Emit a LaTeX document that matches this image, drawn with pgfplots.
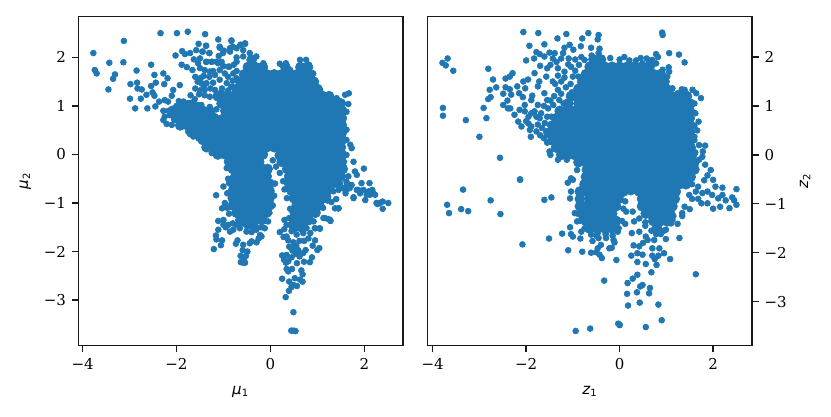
\documentclass[border=0pt]{standalone}
\usepackage{fontspec}
\setmainfont{DejaVu Serif}
\newfontfamily\lab{DejaVu Sans}
\usepackage{pgfplots}
\pgfplotsset{compat=1.18}
\definecolor{tabblue}{HTML}{1F77B4}
\pgfplotsset{
  panel/.style={
    scale only axis, width=194.7pt, height=197.4pt,
    anchor=south west, axis line style={line width=.85pt,black!90},
    tick align=outside,
    tick style={line width=.8pt,black!90},
    major tick length=3.9pt,
    tick label style={font=\fontsize{9}{10}\selectfont},
    xtick={-4,-2,0,2}, xticklabels={−4,−2,0,2},
    ytick={-3,-2,-1,0,1,2}, yticklabels={−3,−2,−1,0,1,2},
    xtick pos=bottom,
  },
  core/.style={only marks, mark=*, mark size=3pt, color=tabblue, mark options={draw=none}},
  dots/.style={only marks, mark=*, mark size=1.75pt, color=tabblue, mark options={draw=none}},
}
\begin{document}
\begin{tikzpicture}
\useasboundingbox (0,0) rectangle (498.6pt,249.6pt);
\begin{axis}[panel, at={(47pt,42.2pt)}, xmin=-4.09, xmax=2.82, ymin=-3.94, ymax=2.84,
  ytick pos=left,
  xlabel={{\lab\itshape μ}\textsubscript{\lab 1}}, ylabel={{\lab\itshape μ}\textsubscript{\lab 2}},
  xlabel style={font=\fontsize{9}{10}\selectfont, at={(axis description cs:0.5,-0.105)}, anchor=north},
  ylabel style={font=\fontsize{9}{10}\selectfont, at={(axis description cs:-0.128,0.5)}, anchor=south}]
% dense middle
\addplot[core] coordinates {
(-.4,1.95)
(-.48,1.8)(-.32,1.8)(-.16,1.8)(.32,1.8)(.64,1.8)(.8,1.8)
(-.56,1.65)(-.4,1.65)(-.24,1.65)(-.08,1.65)(.08,1.65)(.24,1.65)(.4,1.65)(.56,1.65)(.72,1.65)(.85,1.65)
(-.64,1.5)(-.48,1.5)(-.32,1.5)(-.16,1.5)(0,1.5)(.16,1.5)(.32,1.5)(.48,1.5)(.64,1.5)(.8,1.5)(.92,1.5)
(-.72,1.35)(-.56,1.35)(-.4,1.35)(-.24,1.35)(-.08,1.35)(.08,1.35)(.24,1.35)(.4,1.35)(.56,1.35)(.72,1.35)(.88,1.35)(1.0,1.35)
(-1.12,1.2)(-.96,1.2)(-.8,1.2)(-.64,1.2)(-.48,1.2)(-.32,1.2)(-.16,1.2)(0,1.2)(.16,1.2)(.32,1.2)(.48,1.2)(.64,1.2)(.8,1.2)(.96,1.2)(1.12,1.2)(1.25,1.2)
(-1.84,1.02)(-1.68,1.02)(-1.04,1.05)(-.88,1.05)(-.72,1.05)(-.56,1.05)(-.4,1.05)(-.24,1.05)(-.08,1.05)(.08,1.05)(.24,1.05)(.4,1.05)(.56,1.05)(.72,1.05)(.88,1.05)(1.04,1.05)(1.2,1.05)(1.36,1.05)(1.5,1.05)
(-2.08,.9)(-1.92,.9)(-1.76,.9)(-1.6,.9)(-1.44,.9)(-1.28,.88)(-.96,.9)(-.8,.9)(-.64,.9)(-.48,.9)(-.32,.9)(-.16,.9)(0,.9)(.16,.9)(.32,.9)(.48,.9)(.64,.9)(.8,.9)(.96,.9)(1.12,.9)(1.28,.9)(1.44,.9)(1.52,.9)
(-2.0,.75)(-1.84,.75)(-1.68,.75)(-1.52,.75)(-1.36,.75)(-1.2,.75)(-1.04,.72)(-.88,.75)(-.72,.75)(-.56,.75)(-.4,.75)(-.24,.75)(-.08,.75)(.08,.75)(.24,.75)(.4,.75)(.56,.75)(.72,.75)(.88,.75)(1.04,.75)(1.2,.75)(1.36,.75)(1.52,.75)
(-1.92,.6)(-1.76,.6)(-1.6,.6)(-1.44,.6)(-1.28,.6)(-1.12,.6)(-.96,.6)(-.8,.6)(-.64,.6)(-.48,.6)(-.32,.6)(-.16,.6)(0,.6)(.16,.6)(.32,.6)(.48,.6)(.64,.6)(.8,.6)(.96,.6)(1.12,.6)(1.28,.6)(1.44,.6)(1.52,.6)
(-1.68,.45)(-1.52,.45)(-1.36,.45)(-1.2,.45)(-1.04,.45)(-.88,.45)(-.72,.45)(-.56,.45)(-.4,.45)(-.24,.45)(-.08,.45)(.08,.45)(.24,.45)(.4,.45)(.56,.45)(.72,.45)(.88,.45)(1.04,.45)(1.2,.45)(1.36,.45)(1.52,.45)
(-1.44,.3)(-1.28,.3)(-1.12,.3)(-.96,.3)(-.8,.3)(-.64,.3)(-.48,.3)(-.32,.3)(-.16,.3)(0,.3)(.16,.3)(.32,.3)(.48,.3)(.64,.3)(.8,.3)(.96,.3)(1.12,.3)(1.28,.3)(1.44,.3)(1.52,.3)
(-1.36,.15)(-1.2,.15)(-1.04,.15)(-.88,.15)(-.72,.15)(-.56,.15)(-.4,.15)(-.24,.15)(-.08,.15)(.08,.15)(.24,.15)(.4,.15)(.56,.15)(.72,.15)(.88,.15)(1.04,.15)(1.2,.15)(1.36,.15)(1.5,.15)
(-1.12,0)(-.96,0)(-.8,0)(-.64,0)(-.48,0)(-.32,0)(-.16,0)(.2,-.02)(.32,0)(.48,0)(.64,0)(.8,0)(.96,0)(1.12,0)(1.28,0)(1.44,0)(1.52,0)
(-.88,-.15)(-.72,-.15)(-.56,-.15)(-.4,-.15)(-.24,-.15)(.24,-.15)(.4,-.15)(.56,-.15)(.72,-.15)(.88,-.15)(1.04,-.15)(1.2,-.15)(1.36,-.15)(1.52,-.15)
(-.8,-.3)(-.64,-.3)(-.48,-.3)(-.32,-.3)(-.16,-.3)(-.06,-.3)(.36,-.3)(.48,-.3)(.64,-.3)(.8,-.3)(.96,-.3)(1.12,-.3)(1.28,-.3)(1.44,-.3)(1.54,-.3)
(-.72,-.45)(-.56,-.45)(-.4,-.45)(-.24,-.45)(-.08,-.45)(.4,-.45)(.56,-.45)(.72,-.45)(.88,-.45)(1.04,-.45)(1.2,-.45)(1.36,-.45)(1.5,-.45)
(-.8,-.6)(-.64,-.6)(-.48,-.6)(-.32,-.6)(-.16,-.6)(-.02,-.6)(.4,-.6)(.48,-.6)(.64,-.6)(.8,-.6)(.96,-.6)(1.12,-.6)(1.28,-.6)(1.44,-.6)(1.66,-.66)
(-.8,-.75)(-.64,-.75)(-.48,-.75)(-.32,-.75)(-.16,-.75)(-.02,-.75)(.45,-.75)(.56,-.75)(.72,-.75)(.88,-.75)(1.04,-.75)(1.2,-.75)
(-.8,-.9)(-.64,-.9)(-.48,-.9)(-.32,-.9)(-.16,-.9)(-.02,-.9)(.5,-.9)(.64,-.9)(.8,-.9)(.96,-.9)(1.12,-.9)
(-.8,-1.05)(-.64,-1.05)(-.48,-1.05)(-.32,-1.05)(-.16,-1.05)(-.02,-1.05)(.56,-1.05)(.72,-1.05)(.88,-1.05)(1.04,-1.05)
(-.72,-1.2)(-.56,-1.2)(-.4,-1.2)(-.24,-1.2)(-.08,-1.2)(.52,-1.2)(.64,-1.2)(.8,-1.2)(.96,-1.2)
(-.64,-1.35)(-.48,-1.35)(-.32,-1.35)(-.18,-1.35)(.52,-1.35)(.68,-1.35)(.82,-1.35)
(-.35,-1.5)(.5,-1.5)(.66,-1.5)
};
% single dots
\addplot[dots] coordinates {
(-3.77,2.09)(-3.74,1.74)(-3.70,1.67)(-3.43,1.89)(-3.12,2.34)(-3.13,1.90)(-3.31,1.65)(-3.35,1.56)(-3.45,1.34)
(-2.34,2.50)(-1.99,2.50)(-1.76,2.53)(-1.39,2.48)(-1.11,2.37)(-.83,2.35)(-.54,2.28)(-.63,2.26)(-1.53,2.28)(-1.37,2.24)(-1.08,2.20)(-.80,2.22)
(-1.58,2.15)(-1.44,2.12)(-1.88,2.13)(-1.82,2.07)(-2.02,2.04)(-1.71,2.09)(-1.30,2.09)(-.99,2.14)(-.86,2.12)(-.58,2.15)(-1.10,2.03)
(-1.63,1.96)(-1.50,1.98)(-1.54,1.88)(-1.37,1.91)(-1.25,1.91)(-1.11,1.88)(-.72,2.00)(-.87,1.81)(-1.89,1.85)(-1.78,1.80)(-1.66,1.74)
(-2.54,1.85)(-2.85,1.73)(-2.47,1.64)(-2.28,1.67)(-2.19,1.57)(-2.98,1.45)(-2.84,1.48)(-2.44,1.48)(-2.26,1.45)(-2.54,1.41)(-1.93,1.43)
(-2.83,1.36)(-2.74,1.34)(-2.51,1.28)(-2.07,1.33)(-2.64,1.23)(-2.99,1.15)(-2.76,1.15)(-2.47,1.21)(-1.70,1.22)(-2.88,.95)(-2.62,.95)
(-2.45,.99)(-2.37,1.09)(-2.25,1.12)(-2.18,1.09)(-2.10,1.21)(-2.28,.90)(-2.17,.90)
(-1.37,2.24)(-1.3,2.09)(-1.45,2.12)(-1.08,2.22)(-.83,2.34)(-.54,2.29)(-.64,2.26)(-.86,2.19)(-.72,2.19)(-1.01,2.09)
(-1.36,1.91)(-1.25,1.91)(-1.15,1.91)(-1.04,1.91)(-.9,1.81)(-.72,1.91)(-.79,1.67)(-1.08,1.74)(-.97,1.67)(-1.29,1.71)(-1.4,1.74)(-1.5,1.78)
(-1.36,1.47)(-1.18,1.64)(-1.08,1.54)(-1.18,1.33)(-.93,1.47)(-.72,1.57)(-.83,1.4)(-1.47,1.47)(-1.4,1.33)(-1.29,1.19)(-1.6,1.6)(-1.55,1.5)(-1.48,1.58)
(-1.42,1.62)(-1.3,1.6)(-1.22,1.72)(-1.03,1.36)(-.9,1.32)(-.8,1.52)(-.9,1.6)(-.72,1.72)(-.78,1.85)(-1.0,1.82)(-1.42,1.4)(-1.5,1.32)(-1.05,1.28)
(-1.6,1.36)(-1.52,1.24)(-1.4,1.22)(-1.28,1.36)(-1.22,1.48)
(-2.28,.71)(-2.21,.63)(-2.10,.61)(-2.25,.78)(-2.14,.81)(-2.0,.92)(-1.85,1.09)(-1.75,1.06)(-1.61,1.14)(-1.47,1.02)(-1.29,.98)(-1.15,.93)
(-1.85,.64)(-1.75,.47)(-1.64,.37)(-1.53,.33)(-1.35,.16)(-1.25,.03)(-.93,-.28)(-.79,-.45)(-2.0,1.0)(-1.95,1.1)(-1.55,1.02)(-2.05,.72)
(-.44,2.09)(-.58,2.02)(-.3,2.02)(-.15,1.88)(.2,1.87)(.33,1.88)(.42,1.74)(.63,1.95)(.76,1.95)(.82,1.85)(.91,1.67)(.97,1.5)(1.06,1.33)
(1.27,1.23)(1.41,1.16)(1.59,1.23)(1.67,1.26)(1.66,1.04)(1.62,.88)(1.62,.51)(1.62,.3)(1.7,.2)(1.73,.13)(1.62,-.01)(1.77,-.15)(1.99,-.29)
(1.8,-.35)(1.84,-.42)(1.66,-.45)(2.11,-.59)(1.94,-.59)(2.16,-.76)(2.23,-.83)(2.05,-.83)(1.87,-.73)(1.77,-.9)(2.02,-.94)(2.26,-1.0)(2.39,-.97)
(2.51,-1.0)(2.39,-1.12)(1.45,-1.11)(1.34,-.76)(1.23,-.87)(1.16,-1.31)(1.27,-1.35)(.95,-1.52)(1.05,-1.52)
(1.62,-.56)(1.55,-.7)(1.45,-.73)(1.73,-.63)(1.84,-.73)(1.91,-.8)(1.77,-.88)(1.98,-.73)(2.12,-.83)(2.19,-.8)(2.09,-.76)(2.17,-.73)
(2.33,-1.0)(2.28,-1.02)(1.6,-.8)(1.4,-.92)(1.3,-.98)
(-1.155,-.84)(-1.205,-1.95)(-1.11,-1.55)(-1.16,-1.67)(-1.15,-1.75)(-1.03,-1.77)(-1.055,-1.87)(-.735,-1.84)(-.70,-1.77)(-.58,-1.86)(-.59,-1.97)
(-.49,-2.0)(-.52,-2.09)(-.635,-2.09)(-.58,-2.23)(-.63,-2.22)(-.54,-2.23)(-.565,-2.16)(-.25,-1.73)(-.19,-1.69)(-.40,-1.79)(-.295,-1.81)(-.44,-1.83)
(-1.11,-1.37)(-1.0,-1.35)(-.9,-1.45)(-.86,-1.59)(-.79,-1.55)(-.65,-1.52)(-.58,-1.42)(-.51,-1.59)(-1.03,-1.11)(-1.0,-.66)(-.88,-.59)(-.97,-1.0)
(-.05,-1.38)(-.12,-1.52)(-.22,-1.66)(-.92,-.8)(-.92,-1.1)(-.88,-1.22)(-1.0,-1.45)(-.8,-1.42)(-.72,-1.45)(-.5,-1.48)(-.4,-1.6)(-.3,-1.55)(-.95,-1.5)
(-.2,-1.5)(-.02,-1.2)(.05,-1.05)(.08,-.85)(.1,-.6)(.45,-1.42)(.75,-1.42)(.92,-1.38)(1.12,-1.1)(1.22,-.95)(1.3,-.7)(-.9,-.5)
(.2,-1.6)(.345,-1.45)(.40,-1.31)(.295,-1.54)(.345,-1.69)(.38,-1.77)(.49,-1.81)(.52,-1.91)(.59,-1.97)(.75,-1.97)(.70,-2.03)(.54,-2.05)(.45,-2.12)
(.25,-2.08)(.345,-2.07)(.29,-2.17)(.38,-2.2)(.33,-2.23)(.565,-2.24)(.715,-2.21)(.84,-2.22)(.885,-2.12)(1.04,-1.93)(1.0,-1.97)(.9,-1.88)(.95,-1.77)
(.81,-1.73)(.7,-1.62)(.56,-1.65)(.56,-1.48)(.77,-1.52)(.95,-1.52)(1.055,-1.53)(1.13,-1.31)(1.23,-1.33)(1.28,-1.37)(1.45,-1.11)(1.375,-1.11)
(.345,-2.36)(.46,-2.36)(.38,-2.41)(.66,-2.39)(.685,-2.47)(.25,-2.56)(.52,-2.55)(.63,-2.58)(.40,-2.62)(.685,-2.62)(.49,-2.69)(.565,-2.71)
(.45,-2.73)(.395,-2.81)(.325,-2.94)(.49,-3.25)(.445,-3.63)(.495,-3.63)(.535,-3.64)(.62,-1.78)(.72,-1.78)(.85,-1.62)(.45,-1.58)(.55,-1.88)
(.62,-2.1)(.47,-1.98)(.4,-1.9)(.28,-1.7)(.3,-1.35)(.42,-1.12)(.35,-.9)(.3,-.72)(.27,-.55)(.2,-.38)(.12,-.25)(.05,-.12)
};
\end{axis}
\begin{axis}[panel, at={(256.6pt,42.2pt)}, xmin=-4.107, xmax=2.836, ymin=-3.9, ymax=2.825,
  ytick pos=right, yticklabel pos=right,
  xlabel={{\lab\itshape z}\textsubscript{\lab 1}}, ylabel={{\lab\itshape z}\textsubscript{\lab 2}},
  xlabel style={font=\fontsize{9}{10}\selectfont, at={(axis description cs:0.5,-0.105)}, anchor=north},
  ylabel style={font=\fontsize{9}{10}\selectfont, at={(axis description cs:1.129,0.5)}, anchor=north}]
\addplot[core] coordinates {
(-.56,1.95)(-.4,1.95)
(-.64,1.8)(-.48,1.8)(-.32,1.8)(-.16,1.8)(0,1.8)(.16,1.8)(.32,1.8)(.48,1.8)(.64,1.8)
(-.72,1.65)(-.56,1.65)(-.4,1.65)(-.24,1.65)(-.08,1.65)(.08,1.65)(.24,1.65)(.4,1.65)(.56,1.65)(.72,1.65)(.88,1.65)
(-.8,1.5)(-.64,1.5)(-.48,1.5)(-.32,1.5)(-.16,1.5)(0,1.5)(.16,1.5)(.32,1.5)(.48,1.5)(.64,1.5)(.8,1.5)(.96,1.5)
(-.88,1.35)(-.72,1.35)(-.56,1.35)(-.4,1.35)(-.24,1.35)(-.08,1.35)(.08,1.35)(.24,1.35)(.4,1.35)(.56,1.35)(.72,1.35)(.88,1.35)(1.0,1.35)
(-1.04,1.2)(-.96,1.2)(-.8,1.2)(-.64,1.2)(-.48,1.2)(-.32,1.2)(-.16,1.2)(0,1.2)(.16,1.2)(.32,1.2)(.48,1.2)(.64,1.2)(.8,1.2)(.96,1.2)(1.12,1.2)(1.28,1.2)(1.44,1.2)
(-1.1,1.05)(-.88,1.05)(-.72,1.05)(-.56,1.05)(-.4,1.05)(-.24,1.05)(-.08,1.05)(.08,1.05)(.24,1.05)(.4,1.05)(.56,1.05)(.72,1.05)(.88,1.05)(1.04,1.05)(1.2,1.05)(1.36,1.05)(1.5,1.05)
(-1.28,.9)(-1.12,.9)(-.96,.9)(-.8,.9)(-.64,.9)(-.48,.9)(-.32,.9)(-.16,.9)(0,.9)(.16,.9)(.32,.9)(.48,.9)(.64,.9)(.8,.9)(.96,.9)(1.12,.9)(1.28,.9)(1.44,.9)(1.5,.9)
(-1.36,.75)(-1.2,.75)(-1.04,.75)(-.88,.75)(-.72,.75)(-.56,.75)(-.4,.75)(-.24,.75)(-.08,.75)(.08,.75)(.24,.75)(.4,.75)(.56,.75)(.72,.75)(.88,.75)(1.04,.75)(1.2,.75)(1.36,.75)(1.5,.75)
(-1.44,.6)(-1.28,.6)(-1.12,.6)(-.96,.6)(-.8,.6)(-.64,.6)(-.48,.6)(-.32,.6)(-.16,.6)(0,.6)(.16,.6)(.32,.6)(.48,.6)(.64,.6)(.8,.6)(.96,.6)(1.12,.6)(1.28,.6)(1.44,.6)(1.5,.6)
(-1.52,.45)(-1.36,.45)(-1.2,.45)(-1.04,.45)(-.88,.45)(-.72,.45)(-.56,.45)(-.4,.45)(-.24,.45)(-.08,.45)(.08,.45)(.24,.45)(.4,.45)(.56,.45)(.72,.45)(.88,.45)(1.04,.45)(1.2,.45)(1.36,.45)(1.5,.45)
(-1.44,.3)(-1.28,.3)(-1.12,.3)(-.96,.3)(-.8,.3)(-.64,.3)(-.48,.3)(-.32,.3)(-.16,.3)(0,.3)(.16,.3)(.32,.3)(.48,.3)(.64,.3)(.8,.3)(.96,.3)(1.12,.3)(1.28,.3)(1.44,.3)(1.5,.3)
(-1.36,.15)(-1.2,.15)(-1.04,.15)(-.88,.15)(-.72,.15)(-.56,.15)(-.4,.15)(-.24,.15)(-.08,.15)(.08,.15)(.24,.15)(.4,.15)(.56,.15)(.72,.15)(.88,.15)(1.04,.15)(1.2,.15)(1.36,.15)(1.52,.15)
(-1.25,0)(-1.12,0)(-.96,0)(-.8,0)(-.64,0)(-.48,0)(-.32,0)(-.16,0)(0,0)(.16,0)(.32,0)(.48,0)(.64,0)(.8,0)(.96,0)(1.12,0)(1.28,0)(1.44,0)(1.55,0)
(-.88,-.15)(-.72,-.15)(-.56,-.15)(-.4,-.15)(-.24,-.15)(-.08,-.15)(.08,-.15)(.24,-.15)(.4,-.15)(.56,-.15)(.72,-.15)(.88,-.15)(1.04,-.15)(1.2,-.15)(1.36,-.15)(1.52,-.15)(1.6,-.15)
(-.7,-.3)(-.64,-.3)(-.48,-.3)(-.32,-.3)(-.16,-.3)(0,-.3)(.16,-.3)(.32,-.3)(.48,-.3)(.64,-.3)(.8,-.3)(.96,-.3)(1.12,-.3)(1.28,-.3)(1.44,-.3)(1.6,-.3)
(-.72,-.45)(-.56,-.45)(-.4,-.45)(-.24,-.45)(-.08,-.45)(.08,-.45)(.24,-.45)(.4,-.45)(.56,-.45)(.72,-.45)(.88,-.45)(1.04,-.45)(1.2,-.45)(1.36,-.45)(1.52,-.45)
(-.75,-.6)(-.64,-.6)(-.48,-.6)(-.32,-.6)(-.16,-.6)(0,-.6)(.16,-.6)(.32,-.6)(.48,-.6)(.64,-.6)(.8,-.6)(.96,-.6)(1.12,-.6)(1.28,-.6)(1.42,-.6)
(-.85,-.75)(-.72,-.75)(-.56,-.75)(-.4,-.75)(-.24,-.75)(-.08,-.75)(.08,-.75)(.24,-.72)(.42,-.75)(.56,-.75)(.72,-.75)(.88,-.75)(1.04,-.75)(1.2,-.75)
(-.85,-.9)(-.64,-.9)(-.48,-.9)(-.32,-.9)(-.16,-.9)(-.02,-.9)(.48,-.9)(.64,-.9)(.8,-.9)(.96,-.9)(1.12,-.9)(1.18,-.9)
(-.85,-1.05)(-.72,-1.05)(-.56,-1.05)(-.4,-1.05)(-.24,-1.05)(-.08,-1.05)(.48,-1.05)(.56,-1.05)(.72,-1.05)(.88,-1.05)(1.04,-1.05)(1.13,-1.05)
(-.8,-1.2)(-.64,-1.2)(-.48,-1.2)(-.32,-1.2)(-.16,-1.2)(.56,-1.2)(.64,-1.2)(.8,-1.2)(.96,-1.2)(1.08,-1.2)
(-.72,-1.35)(-.56,-1.35)(-.4,-1.35)(-.24,-1.35)(-.08,-1.35)(.72,-1.35)(.88,-1.35)(1.0,-1.35)
(-.64,-1.5)(-.48,-1.5)(-.32,-1.5)(-.16,-1.5)(.8,-1.5)
};
\addplot[dots] coordinates {
(-2.06,2.51)(-1.74,2.49)(-1.14,2.47)(-1.33,2.38)(-.67,2.49)(-.45,2.45)(-.47,2.36)(-.80,2.38)(-1.93,2.23)(-1.61,2.26)(-1.07,2.25)(-1.18,2.19)
(-.83,2.22)(-.99,2.15)(-.61,2.19)(-.43,2.17)(-3.68,1.97)(-3.79,1.88)(-3.72,1.83)(-3.56,1.72)(-2.81,1.76)(-2.0,1.93)(-1.83,1.97)(-1.78,2.1)
(-1.71,2.06)(-1.61,2.01)(-1.5,2.09)(-1.39,2.08)(-1.43,1.97)(-1.21,2.08)(-1.09,1.97)(-1.25,1.97)(-1.7,1.82)(-1.48,1.84)(-1.55,1.77)(-1.32,1.77)
(-1.04,1.8)(-.87,1.84)(-.75,1.94)(-.82,2.0)(-2.29,1.67)(-2.35,1.6)(-2.44,1.56)(-1.82,1.67)(-2.71,1.54)(-2.06,1.5)(-1.96,1.54)(-1.72,1.5)(-1.75,1.4)
(-1.57,1.6)(-1.43,1.5)(-1.18,1.7)(-1.0,1.6)(-1.25,1.5)(-2.78,1.33)(-2.64,1.38)(-2.44,1.38)(-2.35,1.34)(-2.19,1.4)(-2.02,1.36)(-2.49,1.25)(-2.32,1.23)
(-2.15,1.26)(-1.87,1.21)(-1.61,1.26)(-1.32,1.33)(-2.76,1.18)(-2.81,1.14)(-2.4,1.11)(-2.07,1.18)(-1.89,1.12)(-2.49,1.02)(-2.39,.95)(-2.34,.95)
(-2.91,.96)(-3.78,.96)(-3.78,.8)(-3.29,.71)(-2.85,.75)(-3.0,.37)(-2.56,-.06)(-2.13,-.5)(-1.48,1.11)(-1.29,1.12)(-2.03,1.02)(-1.75,1.02)(-1.53,.95)
(-2.25,.82)(-2.17,.68)(-2.1,.58)(-2.0,.69)(-1.89,.58)(-1.92,.51)(-1.9,.37)(-1.78,.48)(-1.71,.75)(-1.6,.65)(-1.62,.34)(-1.5,.07)(-1.48,0)(-1.32,-.1)
(-1.13,-.1)(-.91,-.31)(-1.04,-.48)(-1.89,.85)(-2.03,.89)(-2.14,.92)(-1.82,.89)(-1.68,.85)(-1.46,.78)(-1.32,.89)(-1.18,.92)(-1.57,.48)(-1.43,.44)(-1.46,.31)
(-1.4,1.2)(-1.25,1.25)(-1.15,1.38)(-1.05,1.45)(-1.18,1.58)(-1.32,1.62)(-1.38,1.45)(-1.02,1.28)(-.95,1.72)(-.88,1.6)(-1.1,1.85)(-.95,1.95)(-1.35,1.9)
(-1.55,1.12)(-1.62,1.0)(-1.78,.78)(-1.55,.78)(-1.42,1.02)(-1.2,1.05)(-1.66,.55)(-1.55,.25)(-1.7,.4)(-1.75,.62)(-1.95,.78)(-1.95,.64)
(-1.11,-.57)(-1.0,-.51)(-1.04,-.75)(-1.06,-.89)(-.96,-1.19)(-.91,-1.36)(-.82,-1.57)(-.68,-1.53)(-.61,-1.63)(-.47,-1.6)(-.29,-1.6)(-.04,-1.57)
(-2.13,-.51)(-3.35,-.71)(-3.69,-1.02)(-3.65,-1.19)(-3.39,-1.11)(-3.24,-1.15)(-2.76,-.93)(-2.55,-1.21)(-1.61,-.92)(-1.46,-.87)(-2.08,-1.83)(-1.51,-1.71)
(-1.23,-1.61)(-1.1,-1.95)(-.8,-1.98)(-.61,-2.0)(-.38,-2.11)(-.07,-2.15)(-.33,-2.57)(-.94,-3.6)(-.63,-3.55)(-.03,-3.45)(0,-3.48)(-1.06,-1.48)(-1.04,-1.62)
(-1.0,-1.67)(-.84,-1.71)(-.58,-1.76)(-.45,-1.7)(-.29,-1.7)(-.13,-1.74)(-.11,-1.79)(-.47,-1.91)(-.4,-1.84)(-.22,-1.91)(-.17,-1.9)(-.5,-1.99)(-.43,-2.04)
(-.6,2.03)(-.45,2.08)(-.2,1.98)(0,1.95)(.1,2.0)(.35,1.93)(.45,1.98)(.62,1.93)(1.6,1.05)(1.62,.85)(1.6,.6)(1.6,.3)(1.62,.05)
(-.85,-1.35)(-.75,-1.5)(-.9,-1.2)(-.5,-1.65)(-.3,-1.62)(-.15,-1.65)(-.02,-1.5)(.05,-1.35)(.08,-1.1)(.12,-.95)(.42,-1.3)(.55,-1.38)(1.15,-1.25)(1.1,-1.4)(.95,-1.55)
(.91,2.5)(.92,2.45)(1.06,2.08)(1.27,2.05)(1.39,1.89)(.78,2.06)(.82,2.0)(.58,1.97)(.7,1.94)(.21,1.93)(1.05,1.79)(1.06,1.7)(1.02,1.6)(.92,1.74)(.78,1.87)(.49,1.87)
(1.33,1.34)(1.39,1.33)(1.56,1.33)(1.64,1.26)(1.74,1.16)(1.13,1.36)(1.24,1.26)(1.45,1.23)(1.69,.68)(1.66,.5)(1.6,.37)(1.7,.2)(1.83,.19)(1.78,.07)(1.77,-.04)
(1.7,-.1)(1.83,-.2)(1.95,-.31)(1.88,-.42)(2.0,-.51)(1.81,-.52)(2.05,-.65)(2.2,-.67)(2.5,-.7)(2.41,-.87)(2.45,-.93)(2.5,-1.02)(2.35,-1.09)(2.27,-.93)
(2.2,-.82)(2.15,-1.06)(2.0,-1.1)(1.88,-.99)(1.75,-.99)(1.68,-.9)(2.11,-.89)(1.98,-.82)(1.88,-.75)(1.77,-.78)(1.63,-.75)(1.49,-.82)(1.5,-1.11)(1.39,-1.06)
(1.34,-1.25)(1.24,-1.41)(1.28,-1.7)(1.08,-2.13)(1.63,-2.44)(.95,-2.01)(.83,-2.06)(.7,-2.06)(.75,-2.13)(.79,-2.25)(.68,-2.4)(.56,-2.23)(.38,-2.19)(.25,-2.06)
(.38,-2.45)(.28,-2.53)(.17,-2.62)(.49,-2.66)(.44,-2.69)(.37,-2.81)(.16,-2.84)(.65,-2.72)(.63,-2.83)(.43,-3.02)(.18,-3.08)(.83,-3.06)(.9,-3.38)(.56,-3.52)(0,-3.47)
(.14,-1.16)(.28,-1.16)(.31,-1.36)(.12,-1.41)(.26,-1.6)(.42,-1.57)(.56,-1.67)(.42,-1.87)(.38,-2.01)(.49,-2.04)(.6,-1.74)(.74,-1.74)(.85,-1.91)(.7,-1.91)
(.99,-1.72)(.99,-1.53)(1.02,-1.4)(1.13,-1.33)(1.34,-1.19)(.55,-1.45)(.68,-1.55)(.88,-1.62)(.78,-1.62)(.5,-1.8)(.3,-1.85)(1.55,-.6)(1.68,-.65)(1.55,-.9)
};
\end{axis}
\end{tikzpicture}
\end{document}
